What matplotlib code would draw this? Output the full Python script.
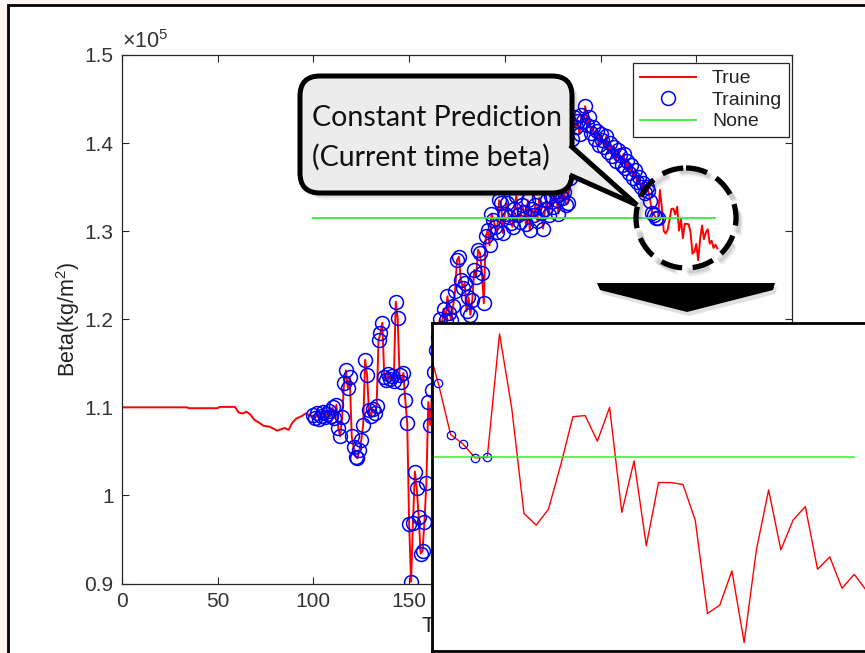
import matplotlib
matplotlib.use('Agg')
import matplotlib.pyplot as plt
from matplotlib.patches import Rectangle, FancyBboxPatch, Polygon, Circle
from matplotlib.ticker import FuncFormatter
import numpy as np

plt.rcParams['font.family'] = ['Liberation Sans', 'DejaVu Sans']
plt.rcParams['mathtext.fontset'] = 'custom'
plt.rcParams['mathtext.rm'] = 'Liberation Sans'
plt.rcParams['mathtext.default'] = 'regular'

# ---- data (beta in units of 1e5 kg/m^2) ----
pre_t = [0, 34, 35, 50, 51, 59, 61, 63, 65, 67, 69, 72, 74, 77, 79, 81, 83, 85, 87, 89, 91, 94, 96, 98, 99]
pre_beta = [1.100, 1.100, 1.099, 1.099, 1.1005, 1.1005, 1.094, 1.093, 1.095, 1.092, 1.086, 1.082, 1.079,
            1.078, 1.076, 1.0735, 1.075, 1.0766, 1.0743, 1.0826, 1.0871, 1.0902, 1.0932, 1.0909, 1.090]

train_t = list(range(100, 281))
train_beta = [
    1.091, 1.088, 1.093, 1.087, 1.090, 1.095, 1.089, 1.092, 1.096, 1.090,
    1.100, 1.088, 1.103, 1.076, 1.067, 1.089, 1.128, 1.142, 1.122, 1.134,
    1.067, 1.055, 1.044, 1.042, 1.051, 1.063, 1.080, 1.154, 1.137, 1.097,
    1.090, 1.098, 1.093, 1.101, 1.176, 1.184, 1.196, 1.135, 1.131, 1.138,
    1.132, 1.136, 1.130, 1.220, 1.201, 1.137, 1.129, 1.139, 1.108, 1.082,
    0.968, 0.902, 0.969, 1.027, 1.008, 0.975, 0.934, 0.937, 0.970, 1.014,
    1.106, 1.080, 1.120, 1.140, 1.165, 1.180, 1.200, 1.190, 1.212, 1.199,
    1.226, 1.207, 1.199, 1.215, 1.232, 1.267, 1.271, 1.245, 1.236, 1.241,
    1.209, 1.225, 1.205, 1.222, 1.256, 1.248, 1.279, 1.275, 1.253, 1.218,
    1.294, 1.301, 1.284, 1.320, 1.313, 1.305, 1.299, 1.335, 1.332, 1.298,
    1.320, 1.332, 1.316, 1.309, 1.305, 1.325, 1.340, 1.318, 1.310, 1.330,
    1.322, 1.308, 1.335, 1.301, 1.325, 1.318, 1.330, 1.312, 1.338, 1.321,
    1.303, 1.325, 1.335, 1.318, 1.340, 1.328, 1.345, 1.335, 1.320, 1.342,
    1.338, 1.345, 1.330, 1.332, 1.360, 1.405, 1.430, 1.418, 1.425, 1.410,
    1.432, 1.425, 1.442, 1.420, 1.430, 1.411, 1.418, 1.405, 1.414, 1.398,
    1.410, 1.403, 1.395, 1.408, 1.390, 1.400, 1.385, 1.396, 1.380, 1.392,
    1.386, 1.375, 1.388, 1.372, 1.380, 1.366, 1.375, 1.360, 1.370, 1.356,
    1.362, 1.350, 1.355, 1.343, 1.350, 1.3451, 1.3339, 1.3207, 1.3183, 1.3147, 1.3148,
]

post_t = list(range(281, 312))
post_beta = [1.3467, 1.3275, 1.3003, 1.2973, 1.3014, 1.3128, 1.3253, 1.3256, 1.3190, 1.3277,
             1.3006, 1.3139, 1.2920, 1.3083, 1.3083, 1.3078, 1.2986, 1.2745, 1.2766, 1.2855,
             1.2670, 1.2909, 1.3064, 1.2909, 1.2986, 1.3021, 1.2859, 1.2891, 1.2810, 1.2846, 1.2804]

const_t = [100, 310]
const_beta = 1.3148

true_t = pre_t + train_t + post_t
true_beta = pre_beta + train_beta + post_beta

RED = '#ff0000'
BLUE = '#0000ff'
GREEN = '#33ee33'
AX_COL = '#262626'

W, H = 865, 653
fig = plt.figure(figsize=(8.65, 6.53), dpi=100, facecolor='#faf6f1')


def frect(x0, y0, x1, y1):
    return [x0 / W, 1 - y1 / H, (x1 - x0) / W, (y1 - y0) / H]


# white slide with black frame
bg = fig.add_axes([0, 0, 1, 1], zorder=0)
bg.set_xlim(0, W)
bg.set_ylim(H, 0)
bg.axis('off')
bg.add_patch(Rectangle((8, 5), 950, 750, facecolor='white', edgecolor='black', lw=2))

# main axes
ax = fig.add_axes(frect(122, 55, 792, 583.5), zorder=1)
ax.plot(true_t, true_beta, color=RED, lw=1.4, label='True')
ax.plot(train_t, train_beta, 'o', mfc='none', mec=BLUE, ms=10, mew=1.1, label='Training')
ax.plot(const_t, [const_beta, const_beta], color=GREEN, lw=1.3, label='None')
ax.set_xlim(0, 350)
ax.set_ylim(0.9, 1.5)
ax.set_xticks([0, 50, 100, 150, 200, 250, 300, 350])
ax.set_yticks([0.9, 1.0, 1.1, 1.2, 1.3, 1.4, 1.5])
ax.yaxis.set_major_formatter(FuncFormatter(lambda v, p: '%g' % round(v, 2)))
ax.tick_params(direction='in', length=5, top=True, right=True, colors=AX_COL,
               labelsize=15, labelcolor='#333333', pad=6)
for s in ax.spines.values():
    s.set_color(AX_COL)
    s.set_linewidth(0.9)
ax.set_ylabel('Beta(kg/m$^2$)', fontsize=15.5, color='#222222', labelpad=2)
ax.set_xlabel('Time(s)', fontsize=15.5, color='#222222', labelpad=4)
ax.text(0.0, 1.004, '×10$^{5}$', transform=ax.transAxes, ha='left', va='bottom',
        fontsize=15.5, color='#333333')
leg = ax.legend(loc='upper right', bbox_to_anchor=(789 / W, 1 - 63 / H), bbox_transform=fig.transFigure,
                borderaxespad=0, fontsize=14, handlelength=2.9, fancybox=False, framealpha=1,
                edgecolor=AX_COL, borderpad=0.35, labelspacing=0.2, handletextpad=0.8)
leg.get_frame().set_linewidth(0.9)
for txt in leg.get_texts():
    txt.set_color('#222222')

# zoomed inset
ax_in = fig.add_axes(frect(432, 323, 905, 651), zorder=2)
ax_in.plot(true_t, true_beta, color=RED, lw=1.0)
ax_in.plot(train_t, train_beta, 'o', mfc='none', mec=BLUE, ms=6, mew=0.9)
ax_in.plot(const_t, [const_beta, const_beta], color=GREEN, lw=1.1)
ax_in.set_xlim(275.48, 314.15)
ax_in.set_ylim(1.2648, 1.3495)
ax_in.set_xticks([])
ax_in.set_yticks([])
for s in ax_in.spines.values():
    s.set_color('black')
    s.set_linewidth(2)

# annotation layer (pixel coords)
ov = fig.add_axes([0, 0, 1, 1], zorder=3)
ov.set_xlim(0, W)
ov.set_ylim(H, 0)
ov.axis('off')
ov.patch.set_alpha(0)

# shadows
for k, a in [(7, 0.05), (5, 0.07), (3, 0.09)]:
    ov.add_patch(FancyBboxPatch((300 + k, 76 + k), 272, 117, boxstyle='round,pad=0,rounding_size=20',
                                facecolor='black', edgecolor='none', alpha=a))
    ov.add_patch(Circle((686 + k * 0.6, 218 + k * 0.8), 50, fill=False, lw=4, edgecolor='black',
                        alpha=a, ls=(0, (4.1, 2.0))))

# callout box + tail
ov.add_patch(FancyBboxPatch((300, 76), 272, 117, boxstyle='round,pad=0,rounding_size=20',
                            facecolor='#ececec', edgecolor='black', lw=3.6))
ov.add_patch(Polygon([(562, 148), (573, 148), (637, 205), (573, 175), (562, 175)],
                     closed=True, facecolor='#ececec', edgecolor='none'))
ov.plot([572, 637, 572], [147, 205, 176], color='black', lw=3.6, solid_joinstyle='miter')
ov.text(312, 118, 'Constant Prediction', fontsize=20.5, family='Lato', va='center', ha='left', color='#111111')
ov.text(312, 157, '(Current time beta)', fontsize=20.5, family='Lato', va='center', ha='left', color='#111111')

# dashed circle
ov.add_patch(Circle((686, 218), 50, fill=False, lw=3.8, edgecolor='black', ls=(0, (4.1, 2.0))))

# down arrow
ov.add_patch(Polygon([(600, 287), (777, 287), (775, 294), (689, 316), (602, 294)],
                     closed=True, facecolor='black', edgecolor='none', alpha=0.12))
ov.add_patch(Polygon([(597, 283), (775, 283), (773, 290), (687, 312), (600, 290)],
                     closed=True, facecolor='black', edgecolor='none'))

fig.savefig('out.png', dpi=100, facecolor=fig.get_facecolor())
